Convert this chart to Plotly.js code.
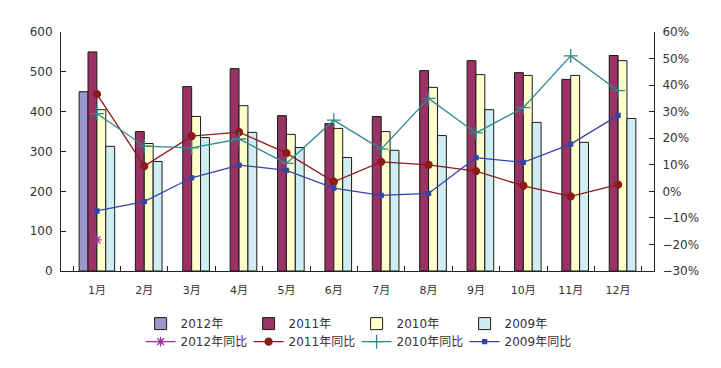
<!DOCTYPE html>
<html>
<head>
<meta charset="utf-8">
<script src="https://cdn.plot.ly/plotly-3.0.1.min.js"></script>
<style>html,body{margin:0;padding:0;background:#fff;}#chart{width:721px;height:368px;}</style>
</head>
<body>
<div id="chart"></div>
<script>
var months = ["1月","2月","3月","4月","5月","6月","7月","8月","9月","10月","11月","12月"];
var v2012 = [450, null, null, null, null, null, null, null, null, null, null, null];
var v2011 = [550, 350, 463, 508, 390, 370, 388, 503, 528, 498, 481, 541];
var v2010 = [405, 320, 388, 415, 343, 358, 350, 461, 493, 491, 491, 528];
var v2009 = [313, 275, 335, 348, 310, 285, 303, 340, 405, 373, 323, 383];
var yoy2012 = [-0.183, null, null, null, null, null, null, null, null, null, null, null];
var yoy2011 = [0.366, 0.095, 0.208, 0.223, 0.144, 0.036, 0.111, 0.100, 0.076, 0.021, -0.019, 0.025];
var yoy2010 = [0.293, 0.170, 0.164, 0.197, 0.105, 0.268, 0.159, 0.350, 0.220, 0.315, 0.510, 0.379];
var yoy2009 = [-0.074, -0.039, 0.051, 0.099, 0.079, 0.012, -0.015, -0.008, 0.127, 0.109, 0.178, 0.286];

var outline = {color: '#1a1a1a', width: 1};
function bar(name, y, color) {
  return {type: 'bar', name: name, x: months, y: y, marker: {color: color, line: outline}, legend: 'legend'};
}
function line(name, y, color, symbol, size) {
  return {type: 'scatter', mode: 'lines+markers', name: name, x: months, y: y, yaxis: 'y2',
    line: {color: color, width: 1.3}, marker: {symbol: symbol, size: size, color: color, line: {color: color, width: 1.3}},
    legend: 'legend2', connectgaps: false};
}
var data = [
  bar('2012年', v2012, '#9999CC'),
  bar('2011年', v2011, '#993366'),
  bar('2010年', v2010, '#FFFFCC'),
  bar('2009年', v2009, '#D0EEF2'),
  line('2012年同比', yoy2012, '#993399', 'asterisk-open', 8),
  line('2011年同比', yoy2011, '#8B1A1A', 'circle', 7),
  line('2010年同比', yoy2010, '#2E8B8B', 'cross-thin-open', 10),
  line('2009年同比', yoy2009, '#3344AA', 'square', 4)
];
var fontFam = 'DejaVu Sans, Noto Sans CJK SC, sans-serif';
var layout = {
  width: 721, height: 368,
  margin: {l: 61, r: 67, t: 32, b: 97, autoexpand: false},
  paper_bgcolor: '#fff', plot_bgcolor: '#fff',
  font: {family: fontFam, size: 11, color: '#333'},
  barmode: 'group', bargap: 0.25, bargroupgap: 0,
  showlegend: true,
  xaxis: {type: 'category', showgrid: false, showline: true, linecolor: '#222', linewidth: 1,
    ticks: 'inside', tickson: 'boundaries', ticklen: 5, tickcolor: '#222', ticklabelstandoff: 9,
    tickfont: {size: 11, color: '#333'}, fixedrange: true},
  yaxis: {range: [0, 600], dtick: 100, showgrid: false, zeroline: false, showline: true, linecolor: '#222', linewidth: 1,
    ticks: 'inside', ticklen: 5, tickcolor: '#222', ticklabelstandoff: 5, tickfont: {size: 12, color: '#333'}},
  yaxis2: {overlaying: 'y', side: 'right', range: [-0.3, 0.6], dtick: 0.1, tickformat: '.0%', showgrid: false, zeroline: false,
    showline: true, linecolor: '#222', linewidth: 1, ticks: 'inside', ticklen: 5, tickcolor: '#222', ticklabelstandoff: 5,
    tickfont: {size: 12, color: '#333'}},
  legend: {orientation: 'h', xref: 'container', yref: 'container', x: 0.195, xanchor: 'left', y: 0.16, yanchor: 'top',
    entrywidth: 63, entrywidthmode: 'pixels', font: {size: 12, color: '#333'}, itemwidth: 30, bgcolor: 'rgba(0,0,0,0)', tracegroupgap: 0},
  legend2: {orientation: 'h', xref: 'container', yref: 'container', x: 0.195, xanchor: 'left', y: 0.111, yanchor: 'top',
    entrywidth: 63, entrywidthmode: 'pixels', font: {size: 12, color: '#333'}, itemwidth: 30, bgcolor: 'rgba(0,0,0,0)', tracegroupgap: 0}
};
Plotly.newPlot('chart', data, layout, {displayModeBar: false, staticPlot: true});
</script>
</body>
</html>
